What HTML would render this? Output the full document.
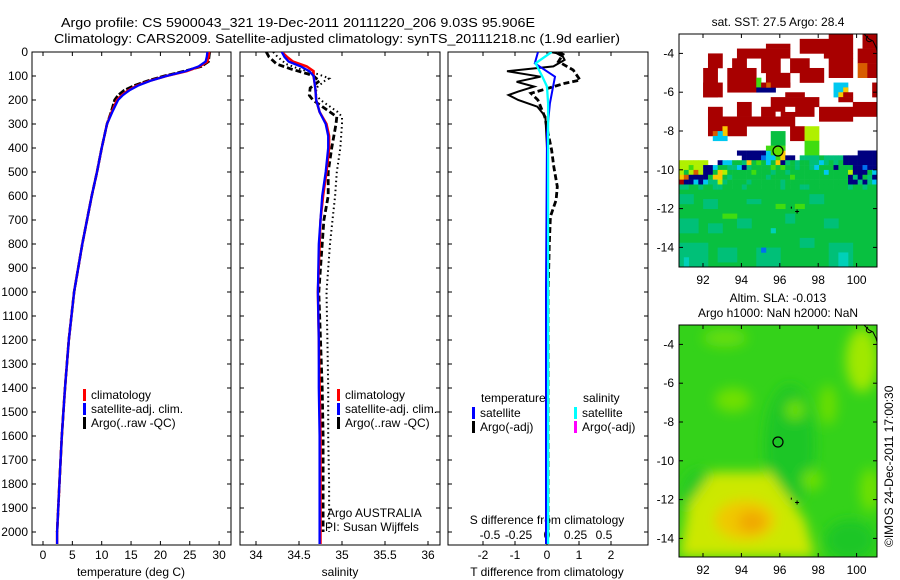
<!DOCTYPE html>
<html><head><meta charset="utf-8">
<style>
html,body{margin:0;padding:0;background:#fff;}
svg{display:block;font-family:"Liberation Sans",Arial,sans-serif;}
</style></head>
<body>
<svg id="fig" width="900" height="580" viewBox="0 0 900 580" xmlns="http://www.w3.org/2000/svg">
<defs>
<clipPath id="c1"><rect x="32" y="52" width="199" height="493"/></clipPath>
<clipPath id="c2"><rect x="240" y="52" width="200" height="493"/></clipPath>
<clipPath id="c3"><rect x="448" y="52" width="200" height="493"/></clipPath>
<clipPath id="cm1"><rect x="679" y="34" width="198" height="233"/></clipPath>
<clipPath id="cm2"><rect x="679" y="325" width="198" height="232"/></clipPath>
<filter id="bl" x="-50%" y="-50%" width="200%" height="200%"><feGaussianBlur stdDeviation="6"/></filter>
</defs>
<text x="61" y="27" font-size="13" textLength="474" lengthAdjust="spacingAndGlyphs">Argo profile: CS 5900043_321 19-Dec-2011 20111220_206 9.03S 95.906E</text>
<text x="54" y="43" font-size="13" textLength="566" lengthAdjust="spacingAndGlyphs">Climatology: CARS2009. Satellite-adjusted climatology: synTS_20111218.nc (1.9d earlier)</text>
<text x="778" y="26" font-size="12" text-anchor="middle">sat. SST: 27.5 Argo: 28.4</text>
<text x="778" y="302" font-size="12" text-anchor="middle">Altim. SLA: -0.013</text>
<text x="778" y="317" font-size="12" text-anchor="middle">Argo h1000: NaN h2000: NaN</text>
<text transform="translate(893,547) rotate(-90)" font-size="12">©IMOS 24-Dec-2011 17:00:30</text>
<g id="g"></g>
</svg>
<script>
// ---------- data ----------
const depthT = [0,20,40,60,80,100,120,140,160,180,200,250,300,400,500,600,700,800,900,1000,1200,1400,1600,1800,2000,2050];
const climT = [28.3,28.2,28.0,26.7,24.5,21.0,18.2,16.0,14.5,13.4,12.6,11.7,10.9,10.0,9.2,8.3,7.5,6.7,6.0,5.3,4.4,3.75,3.2,2.8,2.4,2.4];
const satT  = [28.0,27.9,27.7,26.5,24.3,21.0,18.3,16.2,14.7,13.6,12.8,11.8,10.9,10.0,9.2,8.3,7.5,6.7,6.0,5.3,4.4,3.75,3.2,2.8,2.4,2.4];
const argoTdepth = [0,20,40,60,80,100,120,140,160,180,200,250,300,400,500,600,700,800,900,1000,1200,1400,1600,1800,2000];
const argoT = [28.4,28.3,28.2,27.0,24.0,20.6,17.8,15.5,13.8,12.8,12.2,11.6,10.9,10.0,9.2,8.3,7.5,6.7,6.0,5.3,4.4,3.75,3.2,2.8,2.4];
const depthS = [0,20,40,60,80,100,150,200,250,300,350,400,500,600,700,800,1000,1200,1400,1600,1800,2000,2050];
const climS = [34.30,34.36,34.43,34.59,34.67,34.67,34.69,34.70,34.74,34.82,34.85,34.85,34.82,34.78,34.75,34.74,34.72,34.73,34.74,34.75,34.75,34.75,34.75];
const satS  = [34.30,34.33,34.38,34.52,34.62,34.67,34.69,34.70,34.74,34.81,34.84,34.84,34.81,34.77,34.75,34.73,34.72,34.73,34.73,34.74,34.74,34.74,34.74];
const argoSdepth = [0,20,50,70,90,100,110,120,150,180,200,250,270,300,400,500,600,700,800,1000,1200,1400,1600,1800,2000];
const argoS = [34.12,34.15,34.24,34.40,34.59,34.67,34.70,34.74,34.63,34.62,34.66,34.86,34.94,34.93,34.88,34.84,34.84,34.79,34.77,34.73,34.75,34.77,34.78,34.78,34.78];
const rawS  = [34.20,34.25,34.35,34.50,34.70,34.78,34.85,34.80,34.70,34.70,34.75,34.95,35.00,35.00,34.98,34.94,34.92,34.89,34.86,34.82,34.83,34.84,34.84,34.85,34.85];
const satDiffDepth = [0,47,103,144,214,339,1000,2050];
const satTdiff = [-0.28,-0.38,0.25,0.19,0.09,0,-0.03,-0.03];
const satSdiff = [0.04,-0.1,-0.04,0,0.01,0.01,0.01,0.01];
const argoTdiffDepth = [0,5,20,33,60,80,103,124,144,165,179,200,228,269,400,1000,2000];
const argoTdiff = [0.1,0.3,0.5,0.55,0.2,-1.25,-0.2,-0.95,-0.4,-0.9,-1.2,-0.9,-0.3,-0.05,0,0.03,0];
const argoSdiffDepth = [0,10,40,75,117,130,172,200,269,339,408,478,561,617,686,800,1000,1500,2000];
const argoSdiff = [0.1,0.14,0.1,0.23,0.29,0.16,-0.14,-0.08,-0.02,0.01,0.04,0.06,0.09,0.08,0.03,0.02,0.01,0.01,0.01];
const depthTicks = [0,100,200,300,400,500,600,700,800,900,1000,1100,1200,1300,1400,1500,1600,1700,1800,1900,2000];
const tempTicks = [0,5,10,15,20,25,30];
const salTicks = [34,34.5,35,35.5,36];
const tdTicks = [-2,-1,0,1,2];
const sdTicks = [-0.5,-0.25,0,0.25,0.5];
const sdTickLabels = ["-0.5","-0.25","0","0.25","0.5"];
const lonTicks = [92,94,96,98,100];
const latTicks = [-4,-6,-8,-10,-12,-14];
// SST map: 0.25 deg cells, rectangles [col0,col1,row0,row1,key]
const sstRects = [
[31,35,0,0,'R'],[25,35,1,3,'R'],[30,35,4,4,'R'],[31,35,5,8,'R'],
[38,40,0,2,'R'],[37,40,3,5,'R'],[37,38,6,8,'O'],[39,40,6,8,'R'],
[18,22,2,2,'R'],[12,22,3,4,'R'],[11,13,5,6,'R'],[17,20,5,7,'R'],[10,15,7,11,'R'],[18,22,8,10,'R'],
[6,8,4,6,'R'],[5,7,7,12,'R'],[5,8,10,12,'R'],
[23,26,5,7,'R'],[25,29,7,9,'R'],
[16,16,9,10,'M'],[16,19,11,11,'N'],[18,18,10,10,'O'],[17,17,10,10,'R'],[19,22,10,10,'R'],
[32,34,10,12,'C'],[33,33,12,12,'Y'],[34,34,11,11,'Y'],[33,35,13,13,'R'],[34,35,12,12,'R'],
[40,40,10,12,'R'],
[22,25,12,12,'R'],[19,28,13,14,'R'],[17,27,15,16,'R'],[20,20,16,16,'W'],[22,23,15,15,'W'],
[29,35,15,17,'R'],[36,40,14,16,'R'],
[12,14,14,16,'R'],[6,8,15,17,'R'],[6,23,17,18,'R'],[6,13,19,20,'R'],[23,25,19,21,'R'],
[7,7,20,20,'O'],[9,9,19,20,'Y'],[7,9,21,21,'C'],[8,8,20,20,'C'],
[26,28,19,21,'L'],[26,28,22,23,'M'],[19,21,20,22,'G'],[18,21,23,23,'M']
];
const sstRowStart = 24;
const sstRows = [
"WWWWWWWWWWWWNNNNNNCMMYWWWWMMMWWWWWWWWNNNN",
"WWWWWWWWWWWWWNNNNBCCMYNNWTTTTGTTTTNNNNNNN",
"LLLLLLWWNCCGGTYGMGCGYNTGTGGTTCTGTGNNNNNNN",
"LLMLLNNCGGTTCNTGGGGMGMGGTGGTCGGGNGGGNNBNN",
"LGLOLNNGYLGGGGGMGGGTGGTGGGGGGGCGGGGLNNNGC",
"YONNNNGYYGTGGGGGGGTGGGGMGGGGGGGGGGGNTNGTN",
"RNNCNCTTLTGGGGTGGGGGGTGGGGGGGGGGGGGNNTNTC",
"TTGGTGGTTGGGGTGGGGGGGTGGGTTGGGGGGGGTGGTGG"
];
const sstLower = [
[0,40,32,47,'G'],[0,2,33,34,'T'],[5,7,34,35,'T'],[14,16,34,34,'T'],[27,29,33,34,'T'],
[0,3,38,40,'T'],[6,8,39,40,'T'],[12,14,38,39,'T'],[22,23,37,38,'T'],[30,32,38,39,'T'],
[0,5,43,47,'T'],[8,11,44,46,'T'],[16,20,44,47,'T'],[25,27,42,43,'T'],[31,35,43,47,'T'],
[17,17,44,44,'B'],[19,19,40,40,'H'],[33,34,45,47,'H'],[1,1,46,47,'H'],
[9,11,37,37,'M'],[24,25,35,35,'M'],[20,21,35,35,'M']
];
const sstColors = {R:'#a80000',O:'#d85c00',Y:'#f8c800',C:'#00c8f0',N:'#000080',G:'#08c040',L:'#b0f000',M:'#40dc10',T:'#00c078',H:'#00d0b8',B:'#0070f0',W:null};

// ---------- helpers ----------
const NS = 'http://www.w3.org/2000/svg';
const G = document.getElementById('g');
function mk(tag, attrs, parent){
  const e = document.createElementNS(NS, tag);
  for (const k in attrs) e.setAttribute(k, attrs[k]);
  (parent||G).appendChild(e);
  return e;
}
const Y0 = 52, YS = 0.24;
const yD = d => Y0 + d*YS;
const xT = t => 43 + t*5.87;
const xS = s => 256 + (s-34)*86;
const xTD = d => 547 + d*32;
const xSD = d => 547 + d*114;
function line(xs, ds, fx, attrs, clip, name){
  const pts = xs.map((v,i)=> fx(v).toFixed(1)+','+yD(ds[i]).toFixed(1)).join(' ');
  const p = mk('polyline', Object.assign({points:pts, fill:'none', 'clip-path':'url(#'+clip+')'}, attrs));
  
  
  return p;
}
function txt(x,y,s,attrs,name){
  const t = mk('text', Object.assign({x:x,y:y,'font-size':12}, attrs||{}));
  t.textContent = s;
  
  
  return t;
}
function frame(x0,x1,name){
  const r = mk('rect',{x:x0,y:52,width:x1-x0,height:493,fill:'none',stroke:'#000','stroke-width':1});
  
  
  depthTicks.forEach(d=>{
    mk('line',{x1:x0,x2:x0+4,y1:yD(d),y2:yD(d),stroke:'#000'});
    mk('line',{x1:x1-4,x2:x1,y1:yD(d),y2:yD(d),stroke:'#000'});
  });
}
function xticks(vals, fx, labels, name){
  vals.forEach((v,i)=>{
    const x = fx(v);
    mk('line',{x1:x,x2:x,y1:52,y2:56,stroke:'#000'});
    mk('line',{x1:x,x2:x,y1:541,y2:545,stroke:'#000'});
    if (labels) txt(x, 559, labels[i], {'text-anchor':'middle'}, name);
  });
}
function legend(x,y,color,label,name){
  const b = mk('rect',{x:x,y:y-9,width:3,height:12,fill:color});
  
  
  txt(x+8, y+1, label, {}, name);
}

// ---------- panel 1: temperature ----------
frame(32,231,'temperature-panel');
depthTicks.forEach(d=> txt(28, yD(d)+4, String(d), {'text-anchor':'end'}, 'depth-tick-label'));
xticks(tempTicks, xT, tempTicks.map(String), 'temperature-tick-label');
txt(131, 576, 'temperature (deg C)', {'text-anchor':'middle'}, 'temperature-axis-title');
line(argoT, argoTdepth, xT, {stroke:'#000','stroke-width':2.6,'stroke-dasharray':'7 2'}, 'c1', 'argo-temperature-line');
line(climT, depthT, xT, {stroke:'#f00','stroke-width':2.5}, 'c1', 'climatology-temperature-line');
line(satT, depthT, xT, {stroke:'#00f','stroke-width':2.3}, 'c1', 'satellite-temperature-line');
legend(83,398,'#f00','climatology','legend-climatology');
legend(83,412,'#00f','satellite-adj. clim.','legend-satellite-adj');
legend(83,426,'#000','Argo(..raw -QC)','legend-argo');

// ---------- panel 2: salinity ----------
frame(240,440,'salinity-panel');
xticks(salTicks, xS, salTicks.map(String), 'salinity-tick-label');
txt(340, 576, 'salinity', {'text-anchor':'middle'}, 'salinity-axis-title');
line(rawS, argoSdepth, xS, {stroke:'#000','stroke-width':2,'stroke-dasharray':'1.5 3'}, 'c2', 'argo-raw-salinity-line');
line(argoS, argoSdepth, xS, {stroke:'#000','stroke-width':2.8,'stroke-dasharray':'6 3'}, 'c2', 'argo-salinity-line');
line(climS, depthS, xS, {stroke:'#f00','stroke-width':2.5}, 'c2', 'climatology-salinity-line');
line(satS, depthS, xS, {stroke:'#00f','stroke-width':2.3}, 'c2', 'satellite-salinity-line');
legend(337,398,'#f00','climatology','legend-climatology-2');
legend(337,412,'#00f','satellite-adj. clim.','legend-satellite-adj-2');
legend(337,426,'#000','Argo(..raw -QC)','legend-argo-2');
txt(327, 517, 'Argo AUSTRALIA', {}, 'argo-agency-label');
txt(325, 531, 'PI: Susan Wijffels', {}, 'pi-label');

// ---------- panel 3: differences ----------
frame(448,648,'difference-panel');
xticks(tdTicks, xTD, tdTicks.map(String), 'tdiff-tick-label');
sdTicks.forEach((v,i)=> txt(xSD(v), 539, sdTickLabels[i], {'text-anchor':'middle'}, 'sdiff-tick-label'));
txt(547, 524, 'S difference from climatology', {'text-anchor':'middle'}, 'sdiff-axis-title');
txt(547, 576, 'T difference from climatology', {'text-anchor':'middle'}, 'tdiff-axis-title');
line(argoTdiff, argoTdiffDepth, xTD, {stroke:'#000','stroke-width':2}, 'c3', 'argo-tdiff-line');
line(argoSdiff, argoSdiffDepth, xSD, {stroke:'#000','stroke-width':2.8,'stroke-dasharray':'6 3'}, 'c3', 'argo-sdiff-line');
line(satTdiff, satDiffDepth, xTD, {stroke:'#00f','stroke-width':2}, 'c3', 'satellite-tdiff-line');
line(satSdiff, satDiffDepth, xSD, {stroke:'#0ff','stroke-width':2.3}, 'c3', 'satellite-sdiff-line');
txt(481, 402, 'temperature', {}, 'legend-temperature-header');
txt(583, 402, 'salinity', {}, 'legend-salinity-header');
legend(472,416,'#00f','satellite','legend-t-satellite');
legend(472,430,'#000','Argo(-adj)','legend-t-argo');
legend(574,416,'#0ff','satellite','legend-s-satellite');
legend(574,430,'#f0f','Argo(-adj)','legend-s-argo');

// ---------- maps ----------
const LON0 = 90.75, LONS = 19.2;
const cw = 198/41, rh = 233/48;
function mapFrame(top, h, name){
  const xL = lon => 679 + (lon-LON0)*LONS;
  const yL = lat => top + (-3 - lat)*19.4;
  lonTicks.forEach(v=>{
    const x = xL(v);
    mk('line',{x1:x,x2:x,y1:top,y2:top+4,stroke:'#000'});
    mk('line',{x1:x,x2:x,y1:top+h-4,y2:top+h,stroke:'#000'});
    txt(x, top+h+17, String(v), {'text-anchor':'middle'}, name+'-lon-tick-label');
  });
  latTicks.forEach(v=>{
    const y = yL(v);
    mk('line',{x1:679,x2:683,y1:y,y2:y,stroke:'#000'});
    mk('line',{x1:873,x2:877,y1:y,y2:y,stroke:'#000'});
    txt(674, y+4, String(v), {'text-anchor':'end'}, name+'-lat-tick-label');
  });
  const r = mk('rect',{x:679,y:top,width:198,height:h,fill:'none',stroke:'#000'});
  
  
  mk('path',{d:`M864 ${top} l5 5 l4 2 l3 6 l1 4 M868 ${top+2} a3 3 0 1 0 4 4`,fill:'none',stroke:'#000','stroke-width':1});
  mk('path',{d:`M${xL(96.6)} ${yL(-11.9)} l0 2 M${xL(96.9)-2} ${yL(-12.15)} l4 0 M${xL(96.9)} ${yL(-12.15)-2} l0 4`,stroke:'#000','stroke-width':1});
  const c = mk('circle',{cx:xL(95.906),cy:yL(-9.03),r:5,fill:'none',stroke:'#000','stroke-width':1.2});
  
  
  return {xL,yL};
}
// SST map
const sstG = mk('g',{'clip-path':'url(#cm1)'});


function cell(c0,c1,r0,r1,k,top,parent){
  const col = sstColors[k];
  const x0 = 679 + c0*cw, y0 = top + r0*rh;
  mk('rect',{x:x0.toFixed(2),y:y0.toFixed(2),width:((c1-c0+1)*cw+0.3).toFixed(2),height:((r1-r0+1)*rh+0.3).toFixed(2),fill:col||'#fff'},parent);
}
sstLower.forEach(r=>cell(r[0],r[1],r[2],r[3],r[4],34,sstG));
sstRows.forEach((row,ri)=>{ for(let c=0;c<row.length;c++){ if(row[c]!=='W') cell(c,c,sstRowStart+ri,sstRowStart+ri,row[c],34,sstG); }});
sstRects.forEach(r=>cell(r[0],r[1],r[2],r[3],r[4],34,sstG));
const m1 = mapFrame(34,233,'sst-map');
mk('circle',{cx:m1.xL(95.906),cy:m1.yL(-9.03),r:4.3,fill:'#60e000',stroke:'none'},sstG);

// SLA map
const slaG = mk('g',{'clip-path':'url(#cm2)'});


mk('rect',{x:679,y:325,width:198,height:232,fill:'#34d21a'},slaG);
const bg = mk('g',{filter:'url(#bl)'},slaG);
mk('ellipse',{cx:790,cy:445,rx:25,ry:60,fill:'#1cc628'},bg);
mk('ellipse',{cx:850,cy:540,rx:25,ry:20,fill:'#1cc628'},bg);
mk('ellipse',{cx:700,cy:495,rx:18,ry:25,fill:'#22c828'},bg);
mk('ellipse',{cx:725,cy:338,rx:22,ry:9,fill:'#66de08'},bg);
mk('ellipse',{cx:733,cy:400,rx:18,ry:12,fill:'#70e000'},bg);
mk('ellipse',{cx:795,cy:410,rx:10,ry:10,fill:'#6ade04'},bg);
mk('ellipse',{cx:828,cy:405,rx:9,ry:20,fill:'#6ade04'},bg);
mk('ellipse',{cx:812,cy:480,rx:10,ry:10,fill:'#70e000'},bg);
mk('ellipse',{cx:862,cy:360,rx:16,ry:32,fill:'#a0e800'},bg);
mk('ellipse',{cx:870,cy:490,rx:10,ry:22,fill:'#70e000'},bg);
mk('path',{d:'M679 557 L688 505 L712 472 L770 472 L805 520 L815 557 Z',fill:'#cce800'},bg);
mk('ellipse',{cx:745,cy:520,rx:30,ry:20,fill:'#f0c800'},bg);
mk('ellipse',{cx:752,cy:522,rx:14,ry:11,fill:'#f0a800'},bg);
mapFrame(325,232,'sla-map');
</script>
</body></html>
